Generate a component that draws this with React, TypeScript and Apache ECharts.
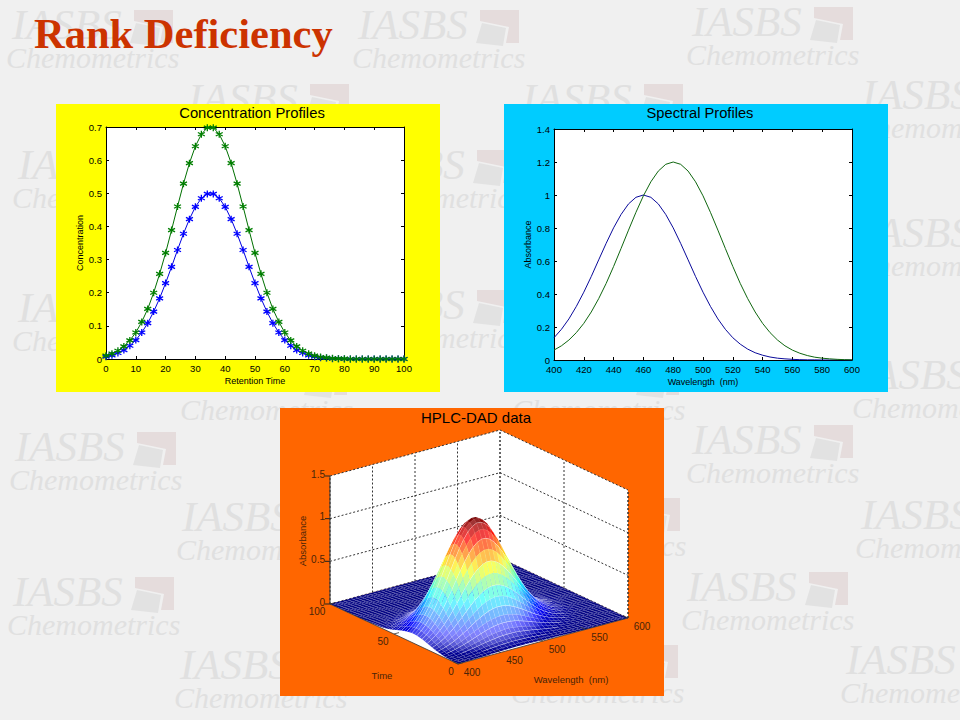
import React, { useEffect, useRef } from "react";
import * as echarts from "echarts";

const timeAxis = [0,2,4,6,8,10,12,14,16,18,20,22,24,26,28,30,32,34,36,38,40,42,44,46,48,50,52,54,56,58,60,62,64,66,68,70,72,74,76,78,80,82,84,86,88,90,92,94,96,98,100];
const concBlue = [.007,.011,.018,.027,.040,.057,.080,.108,.143,.183,.229,.278,.329,.378,.422,.459,.485,.498,.498,.485,.459,.422,.378,.329,.278,.229,.183,.143,.108,.080,.057,.040,.027,.018,.011,.007,.004,.003,.001,.001,0,0,0,0,0,0,0,0,0,0,0];
const concGreen = [.010,.016,.025,.038,.056,.080,.112,.151,.200,.257,.320,.389,.460,.529,.591,.642,.678,.698,.698,.678,.642,.591,.529,.460,.389,.320,.257,.200,.151,.112,.080,.056,.038,.025,.016,.010,.006,.004,.002,.001,.001,0,0,0,0,0,0,0,0,0,0];
const wavelengths = [400,405,410,415,420,425,430,435,440,445,450,455,460,465,470,475,480,485,490,495,500,505,510,515,520,525,530,535,540,545,550,555,560,565,570,575,580,585,590,595,600];
const specBlue = [.135,.186,.249,.325,.411,.506,.607,.707,.801,.882,.946,.986,1,.986,.946,.882,.801,.707,.607,.506,.411,.325,.249,.186,.135,.096,.066,.044,.029,.018,.011,.007,.004,.002,.001,.001,0,0,0,0,0];
const specGreen = [.060,.086,.121,.166,.222,.291,.372,.464,.567,.676,.787,.895,.995,1.080,1.145,1.186,1.2,1.186,1.145,1.080,.995,.895,.787,.676,.567,.464,.372,.291,.222,.166,.121,.086,.060,.041,.027,.017,.011,.007,.004,.002,.001];

const surfaceTimeTicks = [0,50,100];
const surfaceWaveTicks = [400,450,500,550,600];
const surfaceAbsTicks = [0,0.5,1,1.5];

const watermarks = [
  [12,10],[358,10],[692,7],
  [188,84],[522,84],[862,80],
  [18,150],[355,150],
  [862,218],
  [18,293],[355,290],
  [186,362],[518,362],[858,360],
  [15,432],[692,425],
  [182,502],[519,498],[861,500],
  [13,577],[687,572],
  [180,650],[517,645],[846,645],
];

const FONT = '"Liberation Sans", Arial, sans-serif';
const DARK = "#4a2408";

function project(w: number, t: number, a: number): number[] {
  const u = (w - 400) / 200, v = t / 100;
  return [458 + 170 * u - 128 * v, 664 - 46 * u - 60 * v - (a / 1.5) * 128];
}

function jet(v: number): number[] {
  const c = (x: number) => Math.max(0, Math.min(1, x));
  return [
    c(Math.min(4 * v - 1.5, -4 * v + 4.5)),
    c(Math.min(4 * v - 0.5, -4 * v + 3.5)),
    c(Math.min(4 * v + 0.5, -4 * v + 2.5)),
  ].map((x) => x * 255);
}

function cellColor(a: number, area: number) {
  const v = a / 1.25;
  const col = jet(v);
  const white = Math.max(0, Math.min(0.55, 1 - 13 / Math.max(area, 1))) * (1 - 0.6 * v);
  const [r, g, b] = col.map((x) => Math.round(x + (255 - x) * white));
  return `rgb(${r},${g},${b})`;
}

const surfaceRows: number[][] = [];
const amp = (i: number, j: number) => concBlue[i] * specBlue[j] + concGreen[i] * specGreen[j];
for (let i = timeAxis.length - 2; i >= 0; i--) {
  for (let j = wavelengths.length - 2; j >= 0; j--) {
    surfaceRows.push([
      wavelengths[j], timeAxis[i], wavelengths[j + 1], timeAxis[i + 1],
      amp(i, j), amp(i, j + 1), amp(i + 1, j + 1), amp(i + 1, j), i,
    ]);
  }
}

function pair(xs: number[], ys: number[]) {
  return xs.map((x, i) => [x, ys[i]]);
}

const star = "path://M0 -5 L0 5 M-4.33 -2.5 L4.33 2.5 M-4.33 2.5 L4.33 -2.5";

function plotAxes(gridIndex: number, xr: number[], xi: number, yr: number[], yi: number, xname: string, yname: string, namegapY: number) {
  const common = { gridIndex, splitLine: { show: false }, axisLine: { show: true, onZero: false, lineStyle: { color: "#000", width: 1 } }, axisTick: { show: true, inside: true, length: 3, lineStyle: { color: "#000", width: 1 } } };
  const labels = { color: "#000", fontFamily: FONT, fontSize: 9.5, margin: 4, showMinLabel: true, showMaxLabel: true, hideOverlap: false };
  const name = { color: "#000", fontFamily: FONT, fontSize: 9 };
  return {
    x: [
      { ...common, type: "value", position: "bottom", min: xr[0], max: xr[1], interval: xi, axisLabel: labels, name: xname, nameLocation: "middle", nameGap: 17, nameTextStyle: name },
      { ...common, type: "value", position: "top", min: xr[0], max: xr[1], interval: xi, axisLabel: { show: false } },
    ],
    y: [
      { ...common, type: "value", position: "left", min: yr[0], max: yr[1], interval: yi, axisLabel: labels, name: yname, nameLocation: "middle", nameGap: namegapY, nameTextStyle: name },
      { ...common, type: "value", position: "right", min: yr[0], max: yr[1], interval: yi, axisLabel: { show: false } },
    ],
  };
}

function watermarkGraphics() {
  const out: any[] = [];
  for (const [x, y] of watermarks) {
    out.push({ type: "text", z: -20, silent: true, style: { x, y: y + 14, text: "IASBS", font: `italic 43px "Liberation Serif", serif`, fill: "#e0e0e0", textAlign: "left", textVerticalAlign: "middle" } });
    out.push({ type: "text", z: -20, silent: true, style: { x: x - 6, y: y + 47, text: "Chemometrics", font: `italic 30px "Liberation Serif", serif`, fill: "#e0e0e0", textAlign: "left", textVerticalAlign: "middle" } });
    out.push({ type: "polygon", z: -20, silent: true, shape: { points: [[122,0],[161,0],[161,33],[148,33],[151,17],[122,11]].map(([a, b]) => [x + a, y + b]) }, style: { fill: "#e5dcdc" } });
    out.push({ type: "polygon", z: -20, silent: true, shape: { points: [[124,13],[148,18],[145,36],[118,33]].map(([a, b]) => [x + a, y + b]) }, style: { fill: "#e2e2e2" } });
  }
  return out;
}

function panelTitle(text: string, x: number, y: number, size: number) {
  return { type: "text", z: 5, style: { x, y, text, font: `${size}px ${FONT}`, fill: "#000", textAlign: "center", textVerticalAlign: "middle" } };
}

export default function App() {
  const ref = useRef<HTMLDivElement>(null);
  useEffect(() => {
    const chart = echarts.init(ref.current!, undefined, { renderer: "svg" });
    const a = plotAxes(0, [0, 100], 10, [0, 0.7], 0.1, "Retention Time", "Concentration", 21);
    const b = plotAxes(1, [400, 600], 20, [0, 1.4], 0.2, "Wavelength  (nm)", "Absorbance", 18);
    const hiddenX = { type: "value", gridIndex: 2, min: 0, max: 960, show: false };
    const hiddenY = { type: "value", gridIndex: 2, min: 0, max: 720, inverse: true, show: false };
    const xAxis = [...a.x, ...b.x, hiddenX];
    const yAxis = [...a.y, ...b.y, hiddenY];

    const custom3d = (name: string, data: any[], renderItem: any, z: number) => ({
      type: "custom", name, coordinateSystem: "cartesian2d", xAxisIndex: 4, yAxisIndex: 4,
      data, renderItem, z, silent: true, clip: false, progressive: 0, animation: false,
    });

    const dashed = { stroke: "#333", lineWidth: 1, lineDash: [2, 2], fill: null };

    const wallRows = [[400, 100, 600, 100], [600, 100, 600, 0], [400, 100, 400, 0]];
    const segLine = (api: any, p: number[], q: number[], style: any) => {
      const s = api.coord(p), e = api.coord(q);
      return { type: "line", shape: { x1: s[0], y1: s[1], x2: e[0], y2: e[1] }, style };
    };

    const series: any[] = [
      { name: "C blue", type: "line", xAxisIndex: 0, yAxisIndex: 0, data: pair(timeAxis, concBlue), lineStyle: { color: "#0000e0", width: 1 }, symbol: star, symbolSize: 7, itemStyle: { color: "transparent", borderColor: "#0000ff", borderWidth: 1.3 }, z: 3 },
      { name: "C green", type: "line", xAxisIndex: 0, yAxisIndex: 0, data: pair(timeAxis, concGreen), lineStyle: { color: "#007000", width: 1 }, symbol: star, symbolSize: 7, itemStyle: { color: "transparent", borderColor: "#007f00", borderWidth: 1.3 }, z: 4 },
      { name: "S blue", type: "line", xAxisIndex: 2, yAxisIndex: 2, data: pair(wavelengths, specBlue), lineStyle: { color: "#0a0a9a", width: 1 }, showSymbol: false, symbol: "none", z: 3 },
      { name: "S green", type: "line", xAxisIndex: 2, yAxisIndex: 2, data: pair(wavelengths, specGreen), lineStyle: { color: "#0f660f", width: 1 }, showSymbol: false, symbol: "none", z: 4 },
      custom3d("walls", wallRows, (_p: any, api: any) => {
        const w0 = api.value(0), t0 = api.value(1), w1 = api.value(2), t1 = api.value(3);
        const isFloor = w0 === w1 && w0 === 400;
        const pts = isFloor
          ? [project(400, 100, 0), project(600, 100, 0), project(600, 0, 0), project(400, 0, 0)]
          : [project(w0, t0, 0), project(w1, t1, 0), project(w1, t1, 1.5), project(w0, t0, 1.5)];
        return { type: "polygon", shape: { points: pts.map((p) => api.coord(p)) }, style: { fill: "#fff" } };
      }, 2),
      custom3d("grid wave", surfaceWaveTicks.map((w) => [w]), (_p: any, api: any) => {
        const w = api.value(0);
        return segLine(api, project(w, 100, 0), project(w, 100, 1.5), dashed);
      }, 2.1),
      custom3d("grid time", surfaceTimeTicks.map((t) => [t]), (_p: any, api: any) => {
        const t = api.value(0);
        return segLine(api, project(600, t, 0), project(600, t, 1.5), dashed);
      }, 2.1),
      custom3d("grid abs", surfaceAbsTicks.map((v) => [v]), (_p: any, api: any) => {
        const v = api.value(0);
        return {
          type: "group",
          children: [
            segLine(api, project(400, 100, v), project(600, 100, v), dashed),
            segLine(api, project(600, 100, v), project(600, 0, v), dashed),
            segLine(api, project(400, 100, v), [project(400, 100, v)[0] - 5, project(400, 100, v)[1]], { stroke: "#222", lineWidth: 1 }),
          ],
        };
      }, 2.1),
      custom3d("left edge", [[1]], (_p: any, api: any) => segLine(api, project(400, 100, 0), project(400, 100, 1.5), { stroke: "#333", lineWidth: 1 }), 2.2),
      custom3d("surface", surfaceRows, (_p: any, api: any) => {
        const w0 = api.value(0), t0 = api.value(1), w1 = api.value(2), t1 = api.value(3);
        const a00 = api.value(4), a10 = api.value(5), a11 = api.value(6), a01 = api.value(7), idx = api.value(8);
        const pts = [project(w0, t0, a00), project(w1, t0, a10), project(w1, t1, a11), project(w0, t1, a01)].map((p) => api.coord(p));
        let area = 0;
        for (let k = 0; k < 4; k++) {
          const p = pts[k], q = pts[(k + 1) % 4];
          area += p[0] * q[1] - q[0] * p[1];
        }
        area = Math.abs(area) / 2;
        const mean = (a00 + a10 + a11 + a01) / 4;
        const fill = cellColor(mean, area);
        const children: any[] = [
          { type: "polygon", shape: { points: pts }, style: { fill, stroke: "rgba(255,255,255,0.2)", lineWidth: 0.35 } },
        ];
        if (idx % 2 === 0 && mean > 0.03) {
          children.push({ type: "line", shape: { x1: pts[0][0], y1: pts[0][1], x2: pts[1][0], y2: pts[1][1] }, style: { stroke: "rgba(255,255,255,0.85)", lineWidth: 0.8 } });
        }
        return { type: "group", children };
      }, 3),
      custom3d("floor edges", [[0]], (_p: any, api: any) => ({
        type: "group",
        children: [
          segLine(api, project(400, 100, 0), project(400, 0, 0), { stroke: "#333", lineWidth: 0.8 }),
          segLine(api, project(400, 0, 0), project(600, 0, 0), { stroke: "#333", lineWidth: 0.8 }),
          segLine(api, project(600, 0, 0), project(600, 0, 1.5), { stroke: "#333", lineWidth: 1, lineDash: [2, 2] }),
        ],
      }), 4),
      custom3d("time ticks", surfaceTimeTicks.map((t) => [t]), (_p: any, api: any) => {
        const t = api.value(0);
        const p = api.coord(project(400, t, 0));
        return {
          type: "group",
          children: [
            { type: "line", shape: { x1: p[0], y1: p[1], x2: p[0] + 5, y2: p[1] - 1.4 }, style: { stroke: "#333", lineWidth: 0.8 } },
            { type: "text", x: p[0] - 12 + (t === 100 ? -1 : t === 0 ? 5 : 1), y: p[1] + 7, style: { text: String(t), font: `10px ${FONT}`, fill: DARK, textAlign: "center", textVerticalAlign: "middle" } },
          ],
        };
      }, 5),
      custom3d("wave ticks", surfaceWaveTicks.map((w) => [w]), (_p: any, api: any) => {
        const w = api.value(0);
        const p = api.coord(project(w, 0, 0));
        return {
          type: "group",
          children: [
            { type: "line", shape: { x1: p[0], y1: p[1], x2: p[0] - 5, y2: p[1] - 2.4 }, style: { stroke: "#333", lineWidth: 0.8 } },
            { type: "text", x: p[0] + 14, y: p[1] + 8, style: { text: String(w), font: `10px ${FONT}`, fill: DARK, textAlign: "center", textVerticalAlign: "middle" } },
          ],
        };
      }, 5),
      custom3d("abs labels", surfaceAbsTicks.map((v) => [v]), (_p: any, api: any) => {
        const v = api.value(0);
        const p = api.coord(project(400, 100, v));
        return { type: "text", x: p[0] - 5, y: p[1] - 2, style: { text: String(v), font: `10px ${FONT}`, fill: DARK, textAlign: "right", textVerticalAlign: "middle" } };
      }, 5),
    ];

    chart.setOption({
      animation: false,
      backgroundColor: "#f0f0f0",
      grid: [
        { left: 106, top: 127, width: 298, height: 232, show: true, backgroundColor: "#fff", borderWidth: 0, containLabel: false },
        { left: 554, top: 129, width: 298, height: 231, show: true, backgroundColor: "#fff", borderWidth: 0, containLabel: false },
        { left: 0, top: 0, width: 960, height: 720, show: false },
      ],
      xAxis,
      yAxis,
      series,
      graphic: [
        ...watermarkGraphics(),
        { type: "rect", z: -10, silent: true, shape: { x: 56, y: 104, width: 384, height: 288 }, style: { fill: "#ffff00" } },
        { type: "rect", z: -10, silent: true, shape: { x: 504, y: 104, width: 384, height: 288 }, style: { fill: "#00ccff" } },
        { type: "rect", z: -10, silent: true, shape: { x: 280, y: 408, width: 384, height: 288 }, style: { fill: "#ff6600" } },
        { type: "text", z: 5, style: { x: 34, y: 33, text: "Rank Deficiency", font: `bold 42.5px "Liberation Serif", serif`, fill: "#cc3300", textAlign: "left", textVerticalAlign: "middle" } },
        panelTitle("Concentration Profiles", 252, 113, 14.8),
        panelTitle("Spectral Profiles", 700, 113, 14.7),
        panelTitle("HPLC-DAD data", 476, 417, 15),
        { type: "text", z: 5, style: { x: 382, y: 675, text: "Time", font: `9.5px ${FONT}`, fill: DARK, textAlign: "center", textVerticalAlign: "middle" } },
        { type: "text", z: 5, style: { x: 571, y: 679, text: "Wavelength  (nm)", font: `9.5px ${FONT}`, fill: DARK, textAlign: "center", textVerticalAlign: "middle" } },
        { type: "text", z: 5, x: 302, y: 541, rotation: Math.PI / 2, style: { x: 0, y: 0, text: "Absorbance", font: `9.5px ${FONT}`, fill: DARK, textAlign: "center", textVerticalAlign: "middle" } },
      ],
    });
    return () => chart.dispose();
  }, []);
  return <div ref={ref} style={{ position: "absolute", left: 0, top: 0, width: 960, height: 720 }} />;
}
